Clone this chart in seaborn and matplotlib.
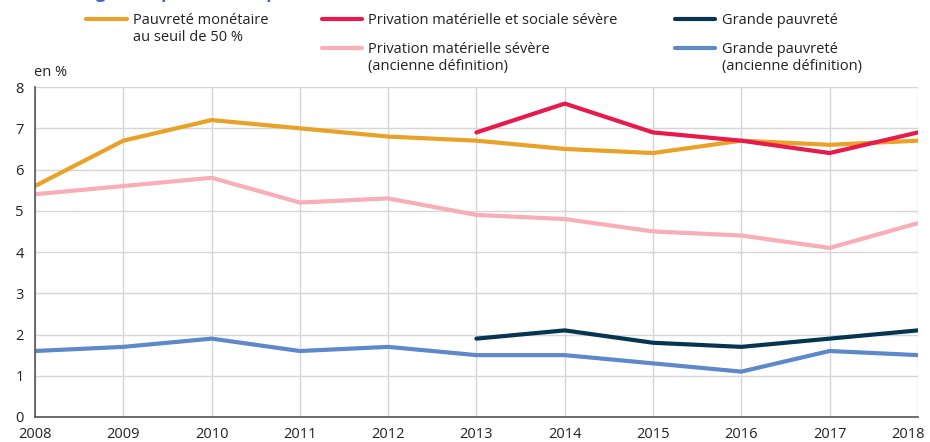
import pandas as pd
import matplotlib
matplotlib.use("Agg")
import matplotlib.pyplot as plt
import matplotlib.transforms as mtransforms
import seaborn as sns

# Données (en %)
annees = list(range(2008, 2019))
annees_new = list(range(2013, 2019))

pauvrete_monetaire = [5.6, 6.7, 7.2, 7.0, 6.8, 6.7, 6.5, 6.4, 6.7, 6.6, 6.7]
privation_mat_sociale = [6.9, 7.6, 6.9, 6.7, 6.4, 6.9]
privation_mat_ancienne = [5.4, 5.6, 5.8, 5.2, 5.3, 4.9, 4.8, 4.5, 4.4, 4.1, 4.7]
grande_pauvrete = [1.9, 2.1, 1.8, 1.7, 1.9, 2.1]
grande_pauvrete_ancienne = [1.6, 1.7, 1.9, 1.6, 1.7, 1.5, 1.5, 1.3, 1.1, 1.6, 1.5]

lab_monetaire = "Pauvreté monétaire\nau seuil de 50 %"
lab_priv_soc = "Privation matérielle et sociale sévère"
lab_priv_anc = "Privation matérielle sévère\n(ancienne définition)"
lab_gp = "Grande pauvreté"
lab_gp_anc = "Grande pauvreté\n(ancienne définition)"

couleurs = {
    lab_monetaire: "#e9a127",
    lab_priv_soc: "#e8194b",
    lab_priv_anc: "#f8adb7",
    lab_gp: "#063552",
    lab_gp_anc: "#5d88c9",
}

series = [
    (lab_priv_anc, annees, privation_mat_ancienne),
    (lab_gp_anc, annees, grande_pauvrete_ancienne),
    (lab_monetaire, annees, pauvrete_monetaire),
    (lab_priv_soc, annees_new, privation_mat_sociale),
    (lab_gp, annees_new, grande_pauvrete),
]

sns.set_theme(style="white")
plt.rcParams["font.family"] = ["Open Sans", "DejaVu Sans"]

fig = plt.figure(figsize=(9.3, 4.42), dpi=100)
ax = fig.add_axes([0.0376, 0.0566, 0.9494, 0.7464])

lignes = {}
for lab, x, y in series:
    df = pd.DataFrame({"annee": x, "valeur": y})
    sns.lineplot(data=df, x="annee", y="valeur", ax=ax, color=couleurs[lab],
                 linewidth=3, label=lab, legend=False)
    lignes[lab] = ax.get_lines()[-1]

ax.set_xlim(2008, 2018)
ax.set_ylim(0, 8)
ax.set_xticks(annees)
ax.set_yticks(range(0, 9))
ax.grid(True, color="#d6d6d6", linewidth=1)
ax.set_axisbelow(True)
for s in ["top", "right"]:
    ax.spines[s].set_visible(False)
for s in ["left", "bottom"]:
    ax.spines[s].set_color("#555555")
    ax.spines[s].set_linewidth(1.2)
ax.tick_params(axis="both", labelsize=10.5, colors="#222222", length=0)
ax.tick_params(axis="x", pad=7)
ax.tick_params(axis="y", pad=8)
ax.set_xlabel("")
ax.set_ylabel("")

# dernier libellé décalé pour rester dans l'image
dernier = ax.get_xticklabels()[-1]
dernier.set_transform(dernier.get_transform() +
                      mtransforms.ScaledTranslation(-0.10, 0, fig.dpi_scale_trans))

fig.text(0.037, 0.818, "en %", fontsize=10.5, color="#222222", ha="left", va="bottom")

# titre (coupé en haut de l'image)
fig.text(0.027, 1.0 + 2.5 / 442, "Taux de grande pauvreté et privation matérielle et sociale sévère",
         fontsize=12.5, fontweight="bold", color="#3a6cc0", ha="left", va="baseline")

# légende en trois colonnes
opts = dict(frameon=False, fontsize=10.5, handlelength=2.75, handletextpad=0.45,
            handleheight=1.3, labelspacing=0.9, borderaxespad=0, borderpad=0,
            loc="upper left")
for cols, xpos in [([lab_monetaire], 0.093), ([lab_priv_soc, lab_priv_anc], 0.346),
                   ([lab_gp, lab_gp_anc], 0.726)]:
    leg = fig.legend([lignes[c] for c in cols], cols, bbox_to_anchor=(xpos, 0.971), **opts)
    for t in leg.get_texts():
        t.set_color("#222222")
    for col in leg._legend_handle_box.get_children():
        for item in col.get_children():
            item.align = "top"

fig.savefig("out.png", dpi=100)
